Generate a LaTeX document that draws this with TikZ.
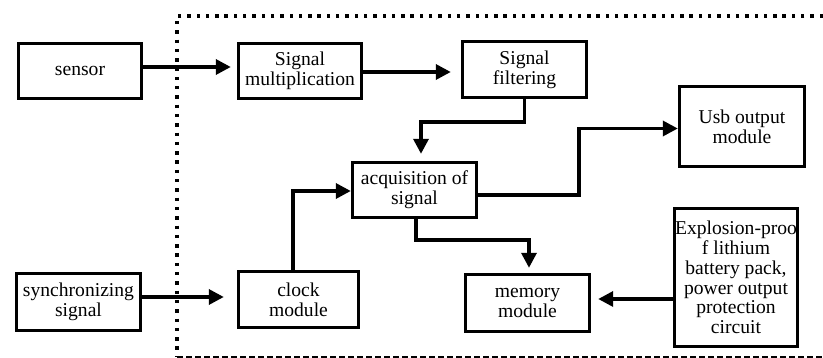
\documentclass[tikz,border=0pt]{standalone}
\usepackage{fontspec}
\setmainfont{Liberation Serif}
\usetikzlibrary{arrows.meta,calc}
\begin{document}
\begin{tikzpicture}[x=1pt,y=-1pt,
  blk/.style={draw,line width=3.4pt,rectangle,inner sep=0pt,align=center,
    font=\fontsize{19.6}{19.8}\selectfont},
  arr/.style={line width=3.4pt,-{Triangle[length=15pt,width=15pt]}},
  frametop/.style={line width=3.4pt,dash pattern=on 3.4pt off 5.9pt},
  framebot/.style={line width=2pt,dash pattern=on 6pt off 3pt}]
\useasboundingbox (0,0) rectangle (823,358);
% frame
\draw[frametop] (823,16) -- (177,16) -- (177,357);
\draw[framebot] (177,357) -- (823,357);
% boxes
\node[blk,minimum width=123pt,minimum height=55pt] (sensor) at (80,71) {sensor};
\node[blk,minimum width=123pt,minimum height=55pt] (mult) at (300,71) {Signal\\multiplication};
\node[blk,minimum width=124pt,minimum height=56pt] (filter) at (524.5,69.5) {Signal\\filtering};
\node[blk,minimum width=125pt,minimum height=80pt] (usb) at (742,126.5) {Usb output\\module};
\node[blk,minimum width=124pt,minimum height=55pt] (acq) at (414.5,190) {acquisition of\\signal};
\node[blk,minimum width=120pt,minimum height=56pt] (clock) at (298.5,299.5) {clock\\module};
\node[blk,minimum width=124pt,minimum height=57pt] (sync) at (78.5,302) {synchronizing\\signal};
\node[blk,minimum width=124pt,minimum height=57pt] (mem) at (527.5,303) {memory\\module};
\node[blk,minimum width=123pt,minimum height=138pt] (expl) at (736,277.5) {Explosion-proo\\f lithium\\battery pack,\\power output\\protection\\circuit};
% connectors
\draw[arr,shorten >=6pt] ([yshift=4pt]sensor.east) -- ([yshift=4pt]sensor.east -| mult.west);
\draw[arr,shorten >=10pt] ([yshift=-1pt]mult.east) -- ([yshift=-1pt]mult.east -| filter.west);
\draw[arr,shorten >=7pt] (filter.south) -- (filter.south |- 0,122) -| ([xshift=6.5pt]acq.north);
\draw[arr] ([yshift=-5pt]acq.east) -- ([yshift=-5pt]acq.east -| 579,0) |- ([yshift=-2pt]usb.west);
\draw[arr,shorten >=5pt] ([xshift=1.5pt]acq.south) -- ([xshift=1.5pt]acq.south |- 0,240) -| ([xshift=1.5pt]mem.north);
\draw[arr] ([xshift=-5.5pt]clock.north) |- ([yshift=-1pt]acq.west);
\draw[arr,shorten >=13pt] ([yshift=5pt]sync.east) -- ([yshift=5pt]sync.east -| clock.west);
\draw[arr,shorten >=7pt] ([yshift=-21.5pt]expl.west) -- ([yshift=-21.5pt]expl.west -| mem.east);
\end{tikzpicture}
\end{document}
